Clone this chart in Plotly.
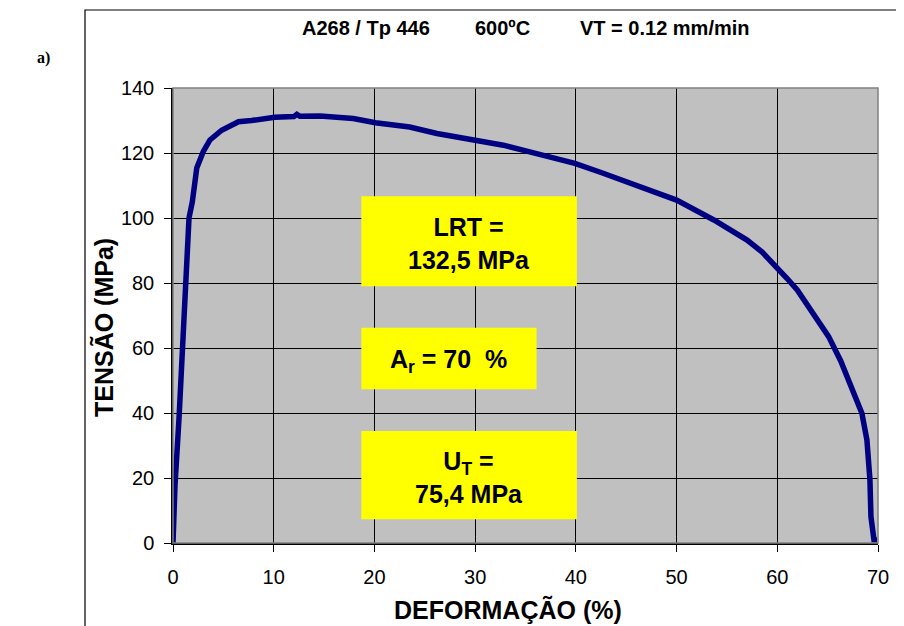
import plotly.graph_objects as go

# Data
deformacao = [0, 0.2, 0.6, 0.93, 1.26, 1.59, 1.92, 2.1, 2.36, 3.0, 3.67, 4.83, 6.5, 7.8,
              10.1, 12.0, 12.3, 12.6, 14.6, 17.9, 20.1, 23.5, 26.2, 30.0, 32.8, 36.1,
              39.9, 42.5, 45.4, 50.0, 53.7, 57.0, 58.5, 60.1, 61.0, 62.0, 63.6, 64.3,
              65.1, 66.3, 67.2, 67.9, 68.4, 68.9, 69.2, 69.3, 69.6, 69.9]
tensao = [0, 17.8, 38.5, 59, 79.4, 100, 105, 110, 115.4, 120.4, 124, 127, 129.6, 130,
          131, 131.2, 131.9, 131.3, 131.4, 130.6, 129.3, 128, 126, 123.9, 122.4, 119.8,
          116.8, 114, 110.7, 105.5, 99.4, 93.2, 89.5, 84.5, 81.3, 77.8, 70.6, 67.2,
          63.5, 56, 49.1, 44.3, 39.9, 31.7, 19.4, 8.1, 0.9, 0.9]

x_ticks = [0, 10, 20, 30, 40, 50, 60, 70]
y_ticks = [0, 20, 40, 60, 80, 100, 120, 140]

title_parts = ["A268 / Tp 446", "600ºC", "VT = 0.12 mm/min"]
box_texts = ["LRT =<br>132,5 MPa", "A<sub>r</sub> = 70\u00a0\u00a0%", "U<sub>T</sub> =<br>75,4 MPa"]

FONT = "Liberation Sans, Arial, sans-serif"

fig = go.Figure()
fig.add_trace(go.Scatter(x=deformacao, y=tensao, mode="lines",
                         line=dict(color="#000080", width=5.5), showlegend=False))

OFF = 8  # page body margin
W, H = 904 - OFF, 626 - OFF
L = 173 - OFF
T = 88 - OFF
R = W - (878 - OFF)
B = H - (543 - OFF)
pw, ph = W - L - R, H - T - B

def px_x(p):
    return (p - OFF - L) / pw

def px_y(p):
    return (H - B - (p - OFF)) / ph

shapes = []
# outer frame (extends beyond window on right/bottom)
shapes.append(dict(type="rect", xref="paper", yref="paper",
                   x0=px_x(85), x1=px_x(960), y0=px_y(700), y1=px_y(10),
                   line=dict(color="black", width=1.2), fillcolor="rgba(0,0,0,0)", layer="below"))
# plot area border (gray)
shapes.append(dict(type="rect", xref="paper", yref="paper", x0=0, x1=1, y0=0, y1=1,
                   line=dict(color="#808080", width=1.5), layer="above"))
# yellow boxes (data coords)
boxes = [(18.7, 40.1, 79.0, 106.7), (18.7, 36.1, 47.3, 66.2), (18.7, 40.1, 7.3, 34.5)]
for x0, x1, y0, y1 in boxes:
    shapes.append(dict(type="rect", xref="x", yref="y", x0=x0, x1=x1, y0=y0, y1=y1,
                       fillcolor="#FFFF00", line=dict(width=0), layer="above"))

annotations = []
for txt, (x0, x1, y0, y1) in zip(box_texts, boxes):
    annotations.append(dict(x=(x0 + x1) / 2, y=(y0 + y1) / 2 - 0.8, xref="x", yref="y",
                            text="<b>" + txt + "</b>", showarrow=False,
                            font=dict(family=FONT, size=25, color="black"),
                            xanchor="center", yanchor="middle"))

for txt, cx in zip(title_parts, [366, 502, 665]):
    annotations.append(dict(x=px_x(cx), y=px_y(28), xref="paper", yref="paper",
                            text="<b>" + txt + "</b>", showarrow=False,
                            font=dict(family=FONT, size=20, color="black"),
                            xanchor="center", yanchor="middle"))

annotations.append(dict(x=px_x(43), y=px_y(58), xref="paper", yref="paper",
                        text="<b>a)</b>", showarrow=False,
                        font=dict(family="Liberation Serif, Times New Roman, serif", size=16, color="black"),
                        xanchor="center", yanchor="middle"))
annotations.append(dict(x=px_x(508), y=px_y(609), xref="paper", yref="paper",
                        text="<b>DEFORMAÇÃO (%)</b>", showarrow=False,
                        font=dict(family=FONT, size=25, color="black"),
                        xanchor="center", yanchor="middle"))
annotations.append(dict(x=px_x(103), y=px_y(328), xref="paper", yref="paper",
                        text="<b>TENSÃO (MPa)</b>", showarrow=False, textangle=-90,
                        font=dict(family=FONT, size=25, color="black"),
                        xanchor="center", yanchor="middle"))

fig.update_layout(
    width=W, height=H,
    margin=dict(l=L, r=R, t=T, b=B, pad=0),
    paper_bgcolor="white", plot_bgcolor="#C0C0C0",
    shapes=shapes, annotations=annotations,
    font=dict(family=FONT, color="black"),
)
fig.update_xaxes(range=[0, 70], tickvals=x_ticks, ticktext=[str(v) for v in x_ticks],
                 showgrid=True, gridcolor="black", gridwidth=1,
                 showline=True, linecolor="black", linewidth=1.5,
                 ticks="outside", ticklen=7, tickcolor="black", tickwidth=1,
                 tickfont=dict(family=FONT, size=20, color="black"),
                 zeroline=False, ticklabelstandoff=8)
fig.update_yaxes(range=[0, 140], tickvals=y_ticks, ticktext=[str(v) for v in y_ticks],
                 showgrid=True, gridcolor="black", gridwidth=1,
                 showline=True, linecolor="black", linewidth=1.5,
                 ticks="outside", ticklen=7, tickcolor="black", tickwidth=1,
                 tickfont=dict(family=FONT, size=20, color="black"),
                 zeroline=False, ticklabelstandoff=6)

fig.write_html("out.html")
